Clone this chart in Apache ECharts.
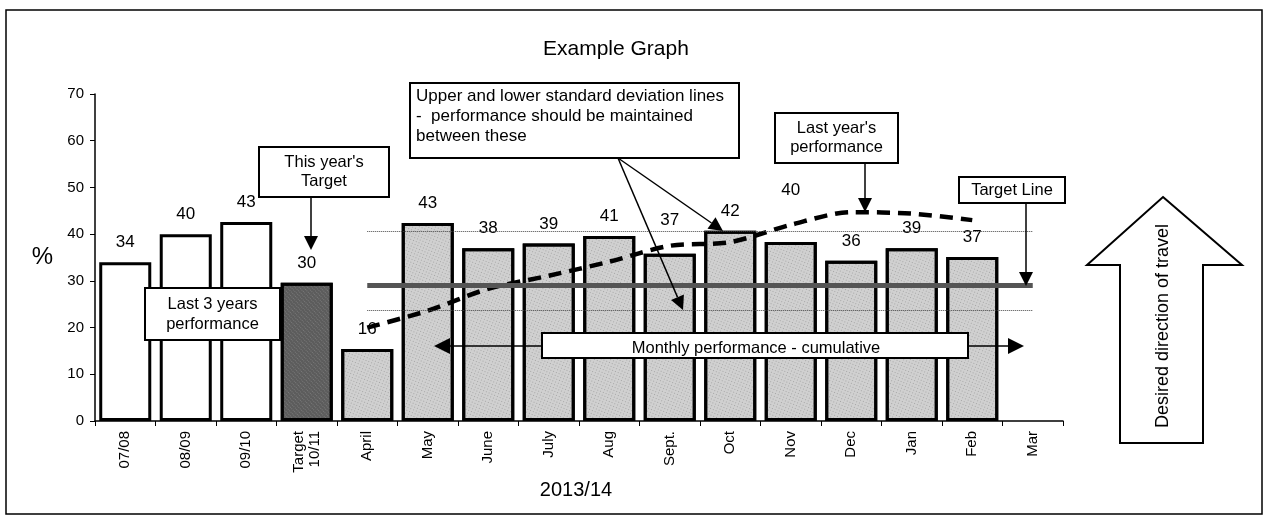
<!DOCTYPE html>
<html>
<head>
<meta charset="utf-8">
<script src="https://cdn.jsdelivr.net/npm/echarts@6/dist/echarts.min.js"></script>
<style>
  html, body { margin: 0; padding: 0; background: #fff; }
  #chart { width: 1266px; height: 520px; }
</style>
</head>
<body>
<div id="chart"></div>
<script>
  // data
  var categories = ['07/08', '08/09', '09/10', 'Target\n10/11', 'April', 'May', 'June', 'July',
    'Aug', 'Sept.', 'Oct', 'Nov', 'Dec', 'Jan', 'Feb', 'Mar'];
  var barValues = [34, 40, 42.6, 29.6, 15.4, 42.4, 37, 38, 39.6, 35.8, 40.7, 38.3, 34.3, 37, 35.1, null];
  var barLabels = ['34', '40', '43', '30', '16', '43', '38', '39', '41', '37', '42', '40', '36', '39', '37', ''];
  var lastYear = [null, null, null, null, 20, 23.6, 28.3, 31.1, 34.1, 37.5, 38.3, 42, 44.7, 44.4, 43, null];
  var targetValue = 29;
  var upperSD = 40.7;
  var lowerSD = 23.7;
  var yTicks = [0, 10, 20, 30, 40, 50, 60, 70];

  var FONT = 'Liberation Sans, Arial, sans-serif';
  var ZTOP = 50;

  var chart = echarts.init(document.getElementById('chart'));

  // bar styling: history white, target dark, months light speckled
  var labelLift = { 9: 14, 11: 32 };
  var barData = barValues.map(function (v, i) {
    var style = { color: '#ffffff', borderColor: '#000', borderWidth: 3 };
    if (i === 3) {
      style.color = '#5c5c5c';
      style.decal = { symbol: 'rect', symbolSize: 1, dashArrayX: [1, 1], dashArrayY: [1, 2], color: 'rgba(255,255,255,0.18)', rotation: 0.8 };
    } else if (i > 3) {
      style.color = '#d0d0d0';
      style.decal = { symbol: 'rect', symbolSize: 1, dashArrayX: [1, 2], dashArrayY: [1, 2], color: 'rgba(90,90,90,0.35)', rotation: 0.4 };
    }
    return {
      value: v,
      itemStyle: style,
      label: { distance: 11 + (labelLift[i] || 0) }
    };
  });

  function arrow(x1, y1, x2, y2, head) {
    head = head || 14;
    var a = Math.atan2(y2 - y1, x2 - x1);
    var w = head * 0.5;
    var bx = x2 - head * Math.cos(a), by = y2 - head * Math.sin(a);
    return {
      type: 'group',
      children: [
        { type: 'line', z: ZTOP, shape: { x1: x1, y1: y1, x2: bx, y2: by }, style: { stroke: '#000', lineWidth: 1.5 } },
        { type: 'polygon', z: ZTOP, shape: { points: [[x2, y2],
          [bx + w * Math.sin(a), by - w * Math.cos(a)],
          [bx - w * Math.sin(a), by + w * Math.cos(a)]] }, style: { fill: '#000' } }
      ]
    };
  }

  function box(x, y, w, h, text, opt) {
    opt = opt || {};
    return {
      type: 'group',
      children: [
        { type: 'rect', z: ZTOP + 1, shape: { x: x, y: y, width: w, height: h }, style: { fill: '#fff', stroke: '#000', lineWidth: 2 } },
        { type: 'text', z: ZTOP + 2, x: opt.tx != null ? opt.tx : x + w / 2, y: opt.ty != null ? opt.ty : y + h / 2,
          style: { text: text, fill: '#000', font: (opt.size || 16.5) + 'px ' + FONT,
            align: opt.align || 'center', verticalAlign: opt.valign || 'middle', lineHeight: opt.lh || 19 } }
      ]
    };
  }

  var option = {
    animation: false,
    title: {
      text: 'Example Graph',
      left: 538, top: 34,
      textStyle: { fontFamily: FONT, fontSize: 21, fontWeight: 'normal', color: '#000' }
    },
    grid: { left: 95, right: 203, top: 94, bottom: 99 },
    xAxis: {
      type: 'category',
      data: categories,
      axisLine: { lineStyle: { color: '#000', width: 1.5 } },
      axisTick: { show: true, length: 5, lineStyle: { color: '#000' } },
      axisLabel: { rotate: 90, fontFamily: FONT, fontSize: 15, color: '#000', margin: 10, lineHeight: 16 },
      name: '2013/14',
      nameLocation: 'middle',
      nameGap: 58,
      nameTextStyle: { fontFamily: FONT, fontSize: 20, color: '#000', padding: [0, 0, 0, -6] }
    },
    yAxis: {
      type: 'value',
      min: yTicks[0], max: yTicks[yTicks.length - 1], interval: 10,
      splitLine: { show: false },
      axisLine: { show: true, lineStyle: { color: '#000', width: 1.5 } },
      axisTick: { show: true, length: 5, lineStyle: { color: '#000' } },
      axisLabel: { fontFamily: FONT, fontSize: 15, color: '#000', margin: 11 },
      name: '%',
      nameLocation: 'middle',
      nameRotate: 0,
      nameGap: 42,
      nameTextStyle: { fontFamily: FONT, fontSize: 24, color: '#000' }
    },
    series: [
      {
        type: 'bar',
        data: barData,
        barCategoryGap: '14%',
        z: 2,
        label: {
          show: true, position: 'top', fontFamily: FONT, fontSize: 17, color: '#000',
          formatter: function (p) { return barLabels[p.dataIndex]; }
        },
        markLine: {
          silent: true, symbol: 'none', label: { show: false },
          data: [
            [{ xAxis: 'April', yAxis: upperSD, lineStyle: { type: 'dotted', color: '#444', width: 1 } }, { xAxis: 'Mar', yAxis: upperSD }],
            [{ xAxis: 'April', yAxis: lowerSD, lineStyle: { type: 'dotted', color: '#444', width: 1 } }, { xAxis: 'Mar', yAxis: lowerSD }],
            [{ xAxis: 'April', yAxis: targetValue, lineStyle: { type: 'solid', color: '#555', width: 5 } }, { xAxis: 'Mar', yAxis: targetValue }]
          ]
        }
      },
      {
        type: 'line',
        data: lastYear,
        z: 4,
        symbol: 'none',
        smooth: 0.3,
        lineStyle: { color: '#000', width: 4.5, type: [13, 8] }
      }
    ],
    graphic: [
      { type: 'rect', z: 0, shape: { x: 6, y: 10, width: 1256, height: 504 }, style: { fill: 'none', stroke: '#000', lineWidth: 1.5 } },
      box(145, 288, 135, 52, 'Last 3 years\nperformance', { lh: 20 }),
      box(259, 147, 130, 50, "This year's\nTarget"),
      arrow(311, 197, 311, 250),
      box(410, 83, 329, 75, 'Upper and lower standard deviation lines\n-  performance should be maintained\nbetween these',
        { size: 17, align: 'left', valign: 'top', tx: 416, ty: 86, lh: 20 }),
      arrow(618, 158, 683, 310),
      arrow(618, 158, 723, 231),
      box(775, 113, 123, 50, "Last year's\nperformance"),
      arrow(865, 163, 865, 212),
      box(959, 177, 106, 26, 'Target Line'),
      arrow(1026, 203, 1026, 286),
      arrow(750, 346, 434, 346, 16),
      arrow(750, 346, 1024, 346, 16),
      box(542, 333, 426, 25, 'Monthly performance - cumulative', { tx: 756, ty: 348 }),
      {
        type: 'polygon', z: ZTOP,
        shape: { points: [[1163, 197], [1242, 265], [1203, 265], [1203, 443], [1120, 443], [1120, 265], [1087, 265]] },
        style: { fill: '#fff', stroke: '#000', lineWidth: 2 }
      },
      {
        type: 'text', z: ZTOP, x: 1163, y: 326, rotation: Math.PI / 2,
        style: { text: 'Desired direction of travel', font: '18px ' + FONT, fill: '#000', align: 'center', verticalAlign: 'middle' }
      }
    ]
  };

  chart.setOption(option);
</script>
</body>
</html>
